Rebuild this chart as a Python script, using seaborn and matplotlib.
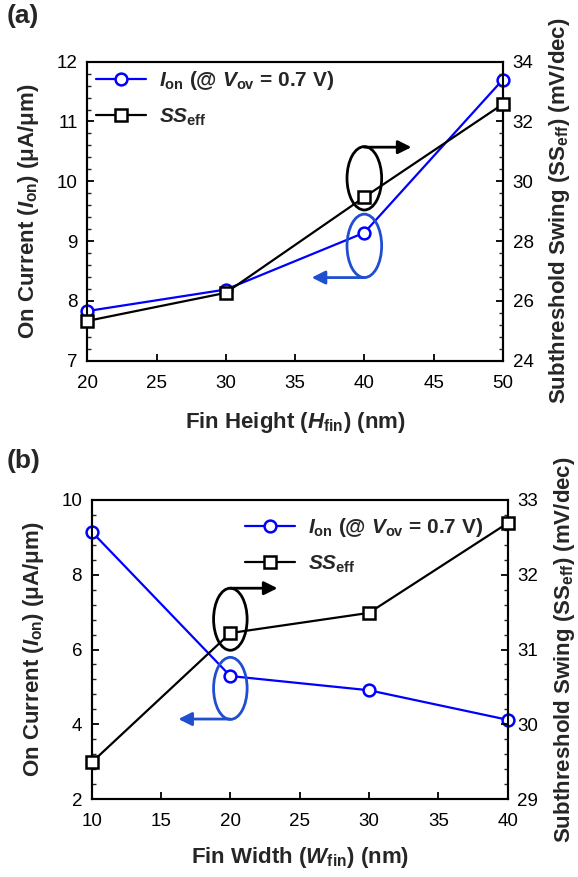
import matplotlib
matplotlib.use("Agg")
import matplotlib.pyplot as plt
import seaborn as sns
from matplotlib.patches import Ellipse
from matplotlib.ticker import MultipleLocator

# (a) fin height sweep
h_fin = [20, 30, 40, 50]
ion_h = [7.83, 8.19, 9.14, 11.70]
ss_h = [25.33, 26.27, 29.47, 32.58]

# (b) fin width sweep
w_fin = [10, 20, 30, 40]
ion_w = [9.15, 5.29, 4.91, 4.12]
ss_w = [29.49, 31.22, 31.49, 32.69]

sns.set_style("ticks")
plt.rcParams["font.family"] = ["Liberation Sans", "DejaVu Sans"]
plt.rcParams["mathtext.fontset"] = "custom"
plt.rcParams["mathtext.rm"] = "Liberation Sans:bold"
plt.rcParams["mathtext.it"] = "Liberation Sans:bold:italic"
plt.rcParams["mathtext.bf"] = "Liberation Sans:bold"
plt.rcParams["axes.linewidth"] = 1.5

BLUE = "#0000ff"
EBLUE = "#1f4fd0"
ion_label = r"$I_{\mathrm{on}}$ (@ $V_{\mathrm{ov}}$ = 0.7 V)"
ss_label = r"$SS_{\mathrm{eff}}$"

fig = plt.figure(figsize=(5.78, 8.77), dpi=100)
ax_a = fig.add_axes([0.151, 0.5887, 0.719, 0.341])
ax_b = fig.add_axes([0.1587, 0.0889, 0.7195, 0.341])


def style_axis(ax):
    ax.tick_params(axis="both", which="major", direction="in", length=5, width=1.3,
                   labelsize=13.5, colors="black")
    ax.tick_params(axis="y", which="major", pad=7)
    ax.tick_params(axis="x", which="major", pad=10)
    ax.tick_params(axis="both", which="minor", direction="in", length=3, width=1.0)
    for s in ax.spines.values():
        s.set_linewidth(1.5)
        s.set_color("black")


def panel(ax, x, ion, ss, xlim, xlab, xpad, ylim_l, yl_major, yl_minor, ylim_r, yr_major,
          yr_minor, leg_anchor, ell, arrow_r_to, arrow_l_to):
    ax2 = ax.twinx()
    sns.lineplot(x=x, y=ion, ax=ax, color=BLUE, marker="o", ms=8.5, mfc="white", mec=BLUE,
                 mew=1.8, lw=1.6, label=ion_label, clip_on=False, zorder=5)
    sns.lineplot(x=x, y=ss, ax=ax2, color="black", marker="s", ms=8, mfc="white", mec="black",
                 mew=1.8, lw=1.6, label=ss_label, clip_on=False, zorder=4)
    ax.set_xlim(*xlim)
    ax.set_ylim(*ylim_l)
    ax2.set_ylim(*ylim_r)
    ax.xaxis.set_major_locator(MultipleLocator(5))
    ax.yaxis.set_major_locator(MultipleLocator(yl_major))
    ax.yaxis.set_minor_locator(MultipleLocator(yl_minor))
    ax2.yaxis.set_major_locator(MultipleLocator(yr_major))
    ax2.yaxis.set_minor_locator(MultipleLocator(yr_minor))
    style_axis(ax)
    style_axis(ax2)
    ax.tick_params(axis="y", which="both", right=False)
    ax.tick_params(axis="x", which="both", top=False)
    ax2.tick_params(axis="x", which="both", top=False, bottom=False)

    ax.set_xlabel(xlab, fontsize=16, fontweight="bold", labelpad=xpad)
    ax.set_ylabel(r"On Current ($I_{\mathrm{on}}$) (μA/μm)", fontsize=16,
                  fontweight="bold", labelpad=11)
    ax2.set_ylabel(r"Subthreshold Swing (SS$_{\mathrm{eff}}$) (mV/dec)", fontsize=16,
                   fontweight="bold", labelpad=10)

    h1, l1 = ax.get_legend_handles_labels()
    h2, l2 = ax2.get_legend_handles_labels()
    ax.get_legend().remove()
    ax2.get_legend().remove()
    ax2.legend(h1 + h2, l1 + l2, loc="upper left", bbox_to_anchor=leg_anchor,
               frameon=False, prop={"weight": "bold", "size": 15}, handlelength=2.4,
               handletextpad=0.6, labelspacing=0.68, borderpad=0, borderaxespad=0)

    # ellipse + arrow markers that tell which axis each curve belongs to
    (cx, cy_k, cy_b, ew, eh, top_k, bot_b) = ell
    ax.add_patch(Ellipse((cx, cy_k), ew, eh, fill=False, ec="black", lw=2, zorder=6))
    ax.add_patch(Ellipse((cx, cy_b), ew, eh, fill=False, ec=EBLUE, lw=2, zorder=6))
    ax.annotate("", xy=(arrow_r_to, top_k), xytext=(cx, top_k),
                arrowprops=dict(arrowstyle="-|>", color="black", lw=2, mutation_scale=20,
                                shrinkA=0, shrinkB=0), zorder=6)
    ax.annotate("", xy=(arrow_l_to, bot_b), xytext=(cx, bot_b),
                arrowprops=dict(arrowstyle="-|>", color=EBLUE, lw=2, mutation_scale=20,
                                shrinkA=0, shrinkB=0), zorder=6)
    return ax2


panel(ax_a, h_fin, ion_h, ss_h, (20, 50), r"Fin Height ($H_{\mathrm{fin}}$) (nm)", 13,
      (7, 12), 1, 0.2, (24, 34), 2, 0.4, (0.022, 0.975),
      (40, 10.05, 8.92, 2.5, 1.06, 10.57, 8.39), 43.4, 36.2)
panel(ax_b, w_fin, ion_w, ss_w, (10, 40), r"Fin Width ($W_{\mathrm{fin}}$) (nm)", 11,
      (2, 10), 2, 0.4, (29, 33), 1, 0.2, (0.369, 0.945),
      (20, 6.81, 4.96, 2.42, 1.66, 7.64, 4.14), 23.4, 16.25)

fig.text(0.012, 0.995, "(a)", fontsize=19, fontweight="bold", va="top", ha="left")
fig.text(0.012, 0.488, "(b)", fontsize=19, fontweight="bold", va="top", ha="left")

fig.savefig("out.png", dpi=100)
